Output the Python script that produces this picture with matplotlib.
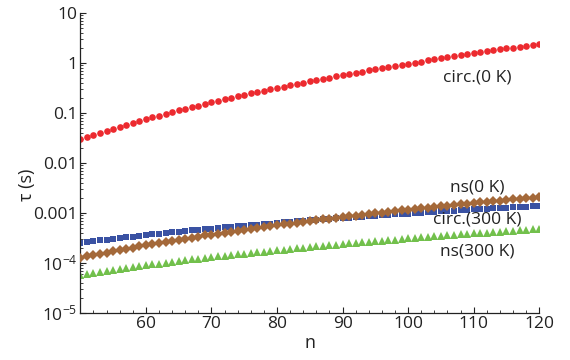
import numpy as np
import matplotlib
matplotlib.use("Agg")
import matplotlib.pyplot as plt
from matplotlib.ticker import FixedLocator, FixedFormatter, LogLocator, NullFormatter, MultipleLocator

plt.rcParams['font.family'] = ['Open Sans', 'DejaVu Sans']
plt.rcParams['mathtext.fontset'] = 'custom'
plt.rcParams['mathtext.rm'] = 'Open Sans'
plt.rcParams['mathtext.it'] = 'Open Sans:italic'
plt.rcParams['mathtext.sf'] = 'Open Sans'

# x values (n)
n = np.arange(50, 121)

# log10(tau), one value per n = 50 .. 120
log_tau_circ_0K = [
    -1.520, -1.477, -1.435, -1.394, -1.353, -1.313, -1.274, -1.236, -1.198, -1.161,
    -1.124, -1.088, -1.053, -1.018, -0.984, -0.951, -0.917, -0.885, -0.853, -0.821,
    -0.790, -0.759, -0.728, -0.699, -0.669, -0.640, -0.611, -0.583, -0.555, -0.527,
    -0.500, -0.473, -0.446, -0.420, -0.394, -0.368, -0.343, -0.318, -0.293, -0.268,
    -0.244, -0.220, -0.196, -0.173, -0.149, -0.126, -0.104, -0.081, -0.059, -0.037,
    -0.015, 0.007, 0.028, 0.050, 0.071, 0.091, 0.112, 0.132, 0.153, 0.173,
    0.192, 0.212, 0.231, 0.251, 0.270, 0.289, 0.308, 0.326, 0.345, 0.363,
    0.381]

log_tau_circ_300K = [
    -3.600, -3.583, -3.567, -3.551, -3.535, -3.519, -3.504, -3.489, -3.474, -3.460,
    -3.446, -3.432, -3.418, -3.404, -3.391, -3.378, -3.365, -3.352, -3.340, -3.327,
    -3.315, -3.303, -3.291, -3.280, -3.268, -3.257, -3.246, -3.234, -3.223, -3.213,
    -3.202, -3.192, -3.181, -3.171, -3.161, -3.151, -3.141, -3.131, -3.121, -3.112,
    -3.102, -3.093, -3.084, -3.074, -3.065, -3.056, -3.048, -3.039, -3.030, -3.021,
    -3.013, -3.004, -2.996, -2.988, -2.980, -2.972, -2.964, -2.956, -2.948, -2.940,
    -2.932, -2.925, -2.917, -2.910, -2.902, -2.895, -2.887, -2.880, -2.873, -2.866,
    -2.859]

log_tau_ns_0K = [
    -3.900, -3.872, -3.846, -3.819, -3.793, -3.768, -3.743, -3.718, -3.694, -3.670,
    -3.647, -3.624, -3.601, -3.579, -3.557, -3.536, -3.514, -3.493, -3.473, -3.452,
    -3.433, -3.413, -3.393, -3.374, -3.355, -3.337, -3.318, -3.300, -3.282, -3.264,
    -3.247, -3.230, -3.213, -3.196, -3.179, -3.163, -3.146, -3.130, -3.114, -3.099,
    -3.083, -3.068, -3.053, -3.038, -3.023, -3.008, -2.993, -2.979, -2.965, -2.951,
    -2.937, -2.923, -2.909, -2.896, -2.882, -2.869, -2.856, -2.843, -2.830, -2.817,
    -2.804, -2.792, -2.779, -2.767, -2.755, -2.743, -2.730, -2.719, -2.707, -2.695,
    -2.683]

log_tau_ns_300K = [
    -4.240, -4.219, -4.199, -4.179, -4.159, -4.140, -4.121, -4.102, -4.084, -4.066,
    -4.048, -4.031, -4.014, -3.997, -3.981, -3.964, -3.948, -3.932, -3.917, -3.901,
    -3.886, -3.871, -3.857, -3.842, -3.828, -3.814, -3.800, -3.786, -3.773, -3.759,
    -3.746, -3.733, -3.720, -3.707, -3.695, -3.682, -3.670, -3.658, -3.646, -3.634,
    -3.622, -3.611, -3.599, -3.588, -3.576, -3.565, -3.554, -3.544, -3.533, -3.522,
    -3.512, -3.501, -3.491, -3.480, -3.470, -3.460, -3.450, -3.440, -3.431, -3.421,
    -3.411, -3.402, -3.393, -3.383, -3.374, -3.365, -3.356, -3.347, -3.338, -3.329,
    -3.320]

y_ticks = [1e-5, 1e-4, 1e-3, 1e-2, 1e-1, 1, 10]
y_tick_labels = ['10$^{-5}$', '10$^{-4}$', '0.001', '0.01', '0.1', '1', '10']
x_ticks = [60, 70, 80, 90, 100, 110, 120]
x_tick_labels = ['60', '70', '80', '90', '100', '110', '120']

series_labels = ['circ.(0 K)', 'ns(0 K)', 'circ.(300 K)', 'ns(300 K)']

fig = plt.figure(figsize=(5.7, 3.6), dpi=100)
ax = fig.add_axes([0.141, 0.131, 0.805, 0.833])

ax.plot(n, 10 ** np.array(log_tau_circ_300K), 's', color='#3a52a3', ms=5.0, mew=0, zorder=2)
ax.plot(n, 10 ** np.array(log_tau_ns_0K), 'D', color='#a4693a', ms=5.2, mew=0, zorder=3)
ax.plot(n, 10 ** np.array(log_tau_ns_300K), '^', color='#72c04c', ms=5.2, mew=0, zorder=2)
ax.plot(n, 10 ** np.array(log_tau_circ_0K), 'o', color='#ec2a2f', ms=4.8, mew=0, zorder=2)

ax.set_yscale('log')
ax.set_xlim(50, 120)
ax.set_ylim(1e-5, 10)

ax.yaxis.set_major_locator(FixedLocator(y_ticks))
ax.yaxis.set_major_formatter(FixedFormatter(y_tick_labels))
ax.yaxis.set_minor_locator(LogLocator(base=10, subs=np.arange(2, 10)))
ax.yaxis.set_minor_formatter(NullFormatter())
ax.xaxis.set_major_locator(FixedLocator(x_ticks))
ax.xaxis.set_major_formatter(FixedFormatter(x_tick_labels))
ax.xaxis.set_minor_locator(MultipleLocator(2))

for s in ['top', 'right']:
    ax.spines[s].set_visible(False)
for s in ['left', 'bottom']:
    ax.spines[s].set_linewidth(0.9)
    ax.spines[s].set_color('#222222')

ax.tick_params(which='major', direction='in', length=4, width=0.8, labelsize=12.5,
               colors='#222222', pad=2)
ax.tick_params(which='minor', direction='in', length=2, width=0.6, colors='#222222')

ax.set_xlabel('n', fontsize=13, color='#222222')
ax.set_ylabel('τ (s)', fontsize=13, color='#222222')
ax.xaxis.set_label_coords(0.5, -0.072)
ax.yaxis.set_label_coords(-0.097, 0.427)

text_pos = [(110.6, 10 ** -0.30), (110.6, 10 ** -2.50), (110.6, 10 ** -3.14), (110.6, 10 ** -3.78)]
for lbl, (tx, ty) in zip(series_labels, text_pos):
    ax.text(tx, ty, lbl, fontsize=12.5, color='#222222', ha='center', va='center')

fig.savefig('out.png', dpi=100)
